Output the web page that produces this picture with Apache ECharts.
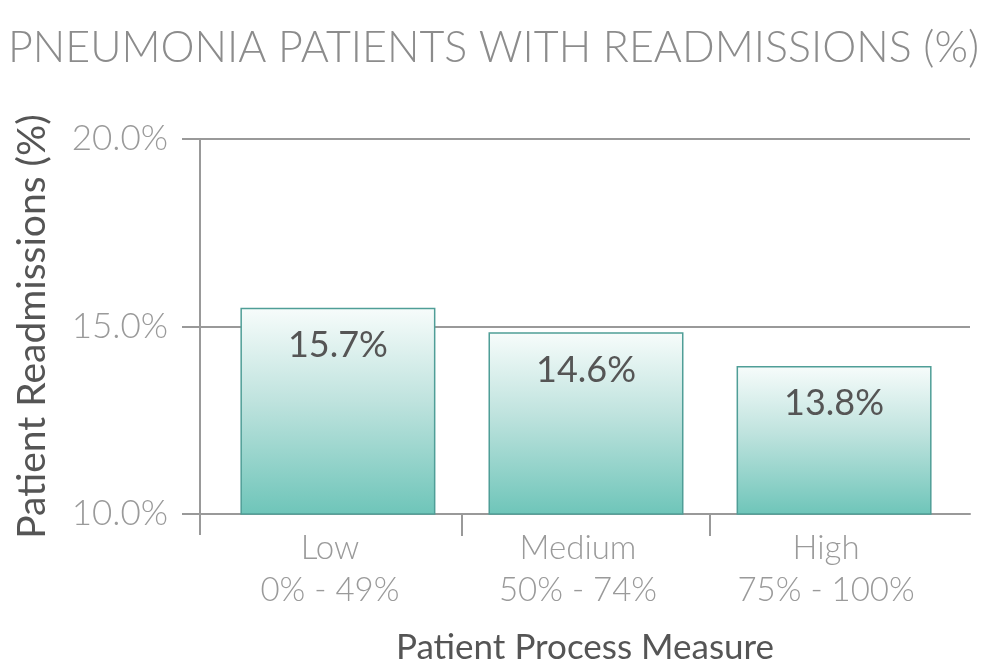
<!DOCTYPE html>
<html>
<head>
<meta charset="utf-8">
<script src="https://cdn.jsdelivr.net/npm/echarts@6/dist/echarts.min.js"></script>
<style>
  html, body { margin: 0; padding: 0; background: #fff; }
  #chart { width: 987px; height: 670px; }
</style>
</head>
<body>
<div id="chart"></div>
<script>
/* Pneumonia readmissions bar chart */

var categories = ["Low", "Medium", "High"];
var ranges = ["0% - 49%", "50% - 74%", "75% - 100%"];
var barValues = [15.5, 14.85, 13.95];      // bar heights as drawn
var labelValues = ["15.7%", "14.6%", "13.8%"]; // printed labels
var yTicks = [10, 15, 20];

var xMin = -0.556, xMax = 2.548;

var myChart = echarts.init(document.getElementById('chart'));

var data = [];
for (var i = 0; i < categories.length; i++) {
	data.push({ value: [i, barValues[i]], label: { formatter: labelValues[i] } });
}

var option = {
	backgroundColor: '#fff',
	animation: false,
	title: {
		text: 'PNEUMONIA PATIENTS WITH READMISSIONS (%)',
		left: 'center',
		top: 22,
		textStyle: { fontFamily: 'Lato', fontWeight: 300, fontSize: 43, color: '#8c8c8c' }
	},
	grid: { left: 200, right: 17, top: 139, bottom: 147 },
	xAxis: {
		type: 'value',
		min: xMin,
		max: xMax,
		name: 'Patient Process Measure',
		nameLocation: 'middle',
		nameGap: 116,
		nameTextStyle: { fontFamily: 'Lato', fontSize: 35, color: '#555' },
		axisLine: { show: true, onZero: false, lineStyle: { color: '#999', width: 2 } },
		axisTick: { show: true, customValues: [0.5, 1.5], length: 22, lineStyle: { color: '#999', width: 2 } },
		splitLine: { show: false },
		axisLabel: {
			customValues: [0, 1, 2],
			margin: 13,
			fontFamily: 'Lato',
			fontWeight: 300,
			fontSize: 33,
			lineHeight: 42,
			padding: [0, 16, 0, 0],
			color: '#9a9a9a',
			formatter: function (v) {
				var k = Math.round(v);
				return categories[k] + '\n' + ranges[k];
			}
		}
	},
	yAxis: {
		type: 'value',
		min: yTicks[0],
		max: yTicks[yTicks.length - 1],
		interval: 5,
		name: 'Patient Readmissions (%)',
		nameLocation: 'middle',
		nameGap: 148,
		nameTextStyle: { fontFamily: 'Lato', fontSize: 39, color: '#555' },
		axisLine: { show: true, onZero: false, lineStyle: { color: '#999', width: 2 } },
		axisTick: { show: true, length: 18, lineStyle: { color: '#999', width: 2 } },
		splitLine: { show: true, lineStyle: { color: '#999', width: 2 } },
		axisLabel: {
			margin: 32,
			fontFamily: 'Lato',
			fontWeight: 300,
			fontSize: 35,
			color: '#9a9a9a',
			formatter: function (v) { return v.toFixed(1) + '%'; }
		}
	},
	series: [{
		type: 'bar',
		barWidth: 195,
		data: data,
		itemStyle: {
			color: new echarts.graphic.LinearGradient(0, 0, 0, 1, [
				{ offset: 0, color: '#f7fcfb' },
				{ offset: 0.45, color: '#bfe3de' },
				{ offset: 1, color: '#6ec5b9' }
			]),
			borderColor: '#4f9e97',
			borderWidth: 1.5
		},
		label: {
			show: true,
			position: 'insideTop',
			distance: 20,
			fontFamily: 'Lato',
			fontSize: 36,
			color: '#555'
		}
	}]
};

myChart.setOption(option);

// y axis line runs a little past the grid at both ends
var top = myChart.convertToPixel({ gridIndex: 0 }, [xMin, 20]);
var bot = myChart.convertToPixel({ gridIndex: 0 }, [xMin, 10]);
myChart.setOption({
	graphic: [
		{ type: 'line', shape: { x1: top[0], y1: top[1] - 17, x2: top[0], y2: top[1] }, style: { stroke: '#999', lineWidth: 2 } },
		{ type: 'line', shape: { x1: bot[0], y1: bot[1], x2: bot[0], y2: bot[1] + 21 }, style: { stroke: '#999', lineWidth: 2 } }
	]
});
</script>
</body>
</html>
